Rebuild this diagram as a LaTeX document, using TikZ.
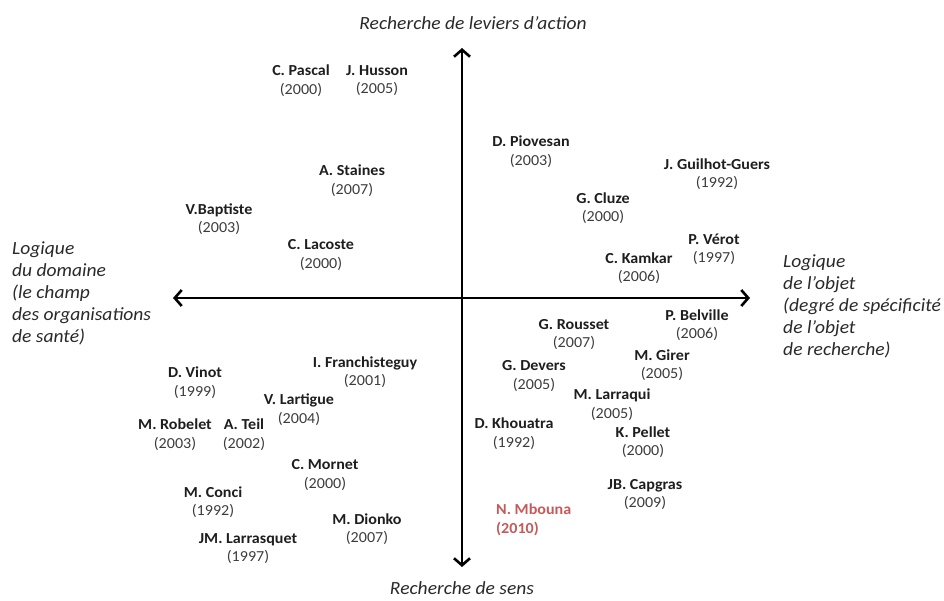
\documentclass[tikz,border=0pt]{standalone}
\usepackage{fontspec}
\setmainfont{Carlito}[FakeStretch=1.05]
\usetikzlibrary{arrows.meta}
\definecolor{inkname}{HTML}{1E1E1E}
\definecolor{inkyear}{HTML}{3C3C3C}
\definecolor{inkaxis}{HTML}{2A2A2A}
\definecolor{highlight}{HTML}{C65A5A}
% author entry: bold name over the year of publication
\newcommand{\pub}[2]{\textbf{#1}\\{\color{inkyear}#2}}
\begin{document}
\begin{tikzpicture}[x=1pt,y=-1pt,
  author/.style={align=center, inner sep=0pt, text=inkname,
    font=\fontsize{15.3}{18.5}\selectfont},
  axislabel/.style={inner sep=0pt, text=inkaxis,
    font=\fontsize{18.6}{21.8}\selectfont\itshape},
  axisline/.style={line width=2.6pt, draw=black,
    {Straight Barb[length=7pt,width=16pt]}-{Straight Barb[length=7pt,width=16pt]}}]
\useasboundingbox (0,0) rectangle (944,601);

% axis end points
\coordinate (top)    at (462,48);
\coordinate (bottom) at (462,567);
\coordinate (left)   at (173,298);
\coordinate (right)  at (750,298);

\draw[axisline] (bottom) -- (top);
\draw[axisline] (left) -- (right);

% axis labels
\node[axislabel, anchor=base] (ltop) at (473,30) {Recherche de leviers d’action};
\node[axislabel, anchor=base] (lbottom) at (462,594) {Recherche de sens};
\node[axislabel, align=left, anchor=north west] (lleft) at (12,242)
  {Logique\\du domaine\\(le champ\\des organisations\\de santé)};
\node[axislabel, align=left, anchor=north west] (lright) at (783,255)
  {Logique\\de l’objet\\(degré de spécificité\\de l’objet\\de recherche)};

% upper left quadrant
\node[author] (pascal)    at (301,80.5)  {\pub{C. Pascal}{(2000)}};
\node[author] (husson)    at (377,80.5)  {\pub{J. Husson}{(2005)}};
\node[author] (staines)   at (352,180.5) {\pub{A. Staines}{(2007)}};
\node[author] (baptiste)  at (219,219)   {\pub{V.Baptiste}{(2003)}};
\node[author] (lacoste)   at (321,255)   {\pub{C. Lacoste}{(2000)}};

% upper right quadrant
\node[author] (piovesan)  at (531,151.5) {\pub{D. Piovesan}{(2003)}};
\node[author] (guilhot)   at (717,174)   {\pub{J. Guilhot-Guers}{(1992)}};
\node[author] (cluze)     at (603,208)   {\pub{G. Cluze}{(2000)}};
\node[author] (verot)     at (714,249.5) {\pub{P. Vérot}{(1997)}};
\node[author] (kamkar)    at (639,268)   {\pub{C. Kamkar}{(2006)}};

% lower left quadrant
\node[author] (franchi)   at (365,372)   {\pub{I. Franchisteguy}{(2001)}};
\node[author] (vinot)     at (195,382.5) {\pub{D. Vinot}{(1999)}};
\node[author] (lartigue)  at (299,409.5) {\pub{V. Lartigue}{(2004)}};
\node[author] (robelet)   at (175,434.5) {\pub{M. Robelet}{(2003)}};
\node[author] (teil)      at (244,434.5) {\pub{A. Teil}{(2002)}};
\node[author] (mornet)    at (325,475)   {\pub{C. Mornet}{(2000)}};
\node[author] (conci)     at (213,502)   {\pub{M. Conci}{(1992)}};
\node[author] (dionko)    at (367,529)   {\pub{M. Dionko}{(2007)}};
\node[author] (larrasq)   at (248,548.5) {\pub{JM. Larrasquet}{(1997)}};

% lower right quadrant
\node[author] (belville)  at (697,325)   {\pub{P. Belville}{(2006)}};
\node[author] (rousset)   at (574,334.5) {\pub{G. Rousset}{(2007)}};
\node[author] (girer)     at (662,365)   {\pub{M. Girer}{(2005)}};
\node[author] (devers)    at (534,376)   {\pub{G. Devers}{(2005)}};
\node[author] (larraqui)  at (612,404.5) {\pub{M. Larraqui}{(2005)}};
\node[author] (khouatra)  at (514,433.5) {\pub{D. Khouatra}{(1992)}};
\node[author] (pellet)    at (643,442)   {\pub{K. Pellet}{(2000)}};
\node[author] (capgras)   at (645,494.5) {\pub{JB. Capgras}{(2009)}};
\node[author, align=left, anchor=west, text=highlight] (mbouna) at (496,520)
  {\textbf{N. Mbouna}\\\textbf{(2010)}};
\end{tikzpicture}
\end{document}
